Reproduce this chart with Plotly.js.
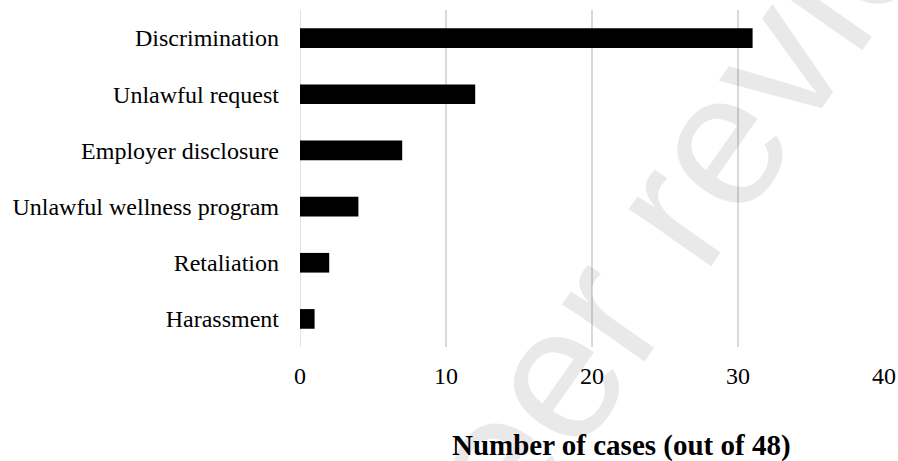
<!DOCTYPE html>
<html>
<head>
<meta charset="utf-8">
<script src="https://cdn.plot.ly/plotly-3.0.1.min.js"></script>
<style>html,body{margin:0;padding:0;background:#fff;}#chart{width:898px;height:461px;}</style>
</head>
<body>
<div id="chart"></div>
<script>
const categories = ["Harassment", "Retaliation", "Unlawful wellness program", "Employer disclosure", "Unlawful request", "Discrimination"];
const cases = [1, 2, 4, 7, 12, 31];
const xTicks = [0, 10, 20, 30, 40];
const xTitle = "Number of cases (out of 48)";
const watermark = "Peer review";

const serif = "Liberation Serif, Times New Roman, serif";

const data = [{
  type: "bar",
  orientation: "h",
  y: categories,
  x: cases,
  width: 0.35,
  marker: {color: "#000000", line: {width: 0}},
  hoverinfo: "skip"
}];

const layout = {
  width: 898,
  height: 461,
  margin: {l: 300, r: 14, t: 10, b: 114},
  paper_bgcolor: "#ffffff",
  plot_bgcolor: "#ffffff",
  showlegend: false,
  font: {family: serif, color: "#000000", size: 24},
  xaxis: {
    range: [0, 40],
    tickvals: xTicks,
    ticktext: xTicks.map(String),
    showgrid: true,
    gridcolor: "#d9d9d9",
    gridwidth: 1.3,
    zeroline: false,
    showline: false,
    ticks: "",
    ticklabelstandoff: 12,
    tickfont: {family: serif, size: 24, color: "#000000"},
    fixedrange: true
  },
  yaxis: {
    type: "category",
    categoryorder: "array",
    categoryarray: categories,
    showgrid: false,
    zeroline: false,
    showline: false,
    ticks: "",
    ticklabelstandoff: 20,
    tickfont: {family: serif, size: 24, color: "#000000"},
    fixedrange: true
  },
  shapes: [{
    type: "line", xref: "x", yref: "paper", x0: 0, x1: 0, y0: 0, y1: 1,
    line: {color: "#d9d9d9", width: 1.5}, layer: "below"
  }],
  annotations: [
    {
      text: "<b>" + xTitle + "</b>",
      xref: "paper", yref: "paper",
      x: 0.55, y: -0.292,
      xanchor: "center", yanchor: "middle",
      showarrow: false,
      font: {family: serif, size: 29, color: "#000000"}
    },
    {
      text: watermark,
      xref: "paper", yref: "paper",
      x: (677 - 300) / 584, y: 1 - (200 - 10) / 337,
      xanchor: "center", yanchor: "middle",
      showarrow: false,
      textangle: -55,
      font: {family: "Liberation Sans, Arial, sans-serif", size: 190, color: "rgba(0,0,0,0.085)"}
    }
  ]
};

Plotly.newPlot("chart", data, layout, {displayModeBar: false, staticPlot: true});
</script>
</body>
</html>
